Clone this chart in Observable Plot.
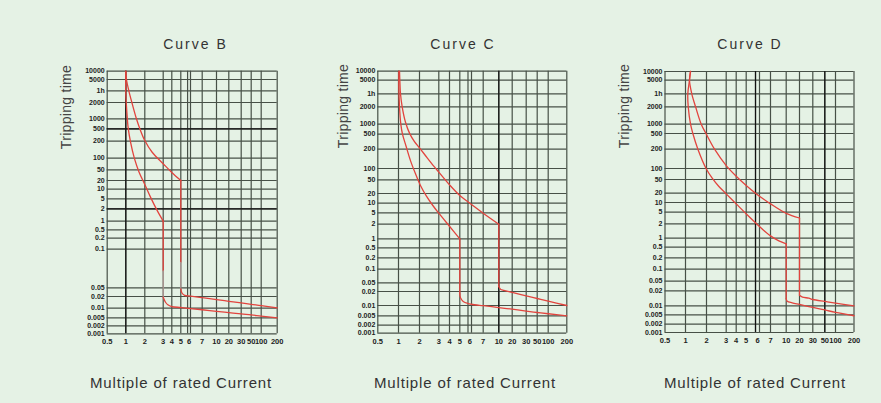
<!DOCTYPE html>
<html><head><meta charset="utf-8">
<script src="https://cdn.jsdelivr.net/npm/d3@7"></script>
<script src="https://cdn.jsdelivr.net/npm/@observablehq/plot@0.6"></script>
<style>
html,body{margin:0;padding:0;background:#ffffff;}
#wrap{position:relative;width:881px;height:403px;background:#e5f2e5;overflow:hidden;font-family:"Liberation Sans",Arial,sans-serif;}
#wrap svg{position:absolute;left:0;top:0;overflow:visible;}
.lbl{position:absolute;white-space:nowrap;transform:translate(-50%,-50%);line-height:1;}
.ttl{font-size:14px;letter-spacing:2px;color:#333;}
.yt{font-size:14px;letter-spacing:0.3px;color:#444;transform:translate(-50%,-50%) rotate(-90deg);}
.xt{font-size:15px;letter-spacing:0.85px;color:#333;}
</style></head><body><div id="wrap"></div>
<script>
// ---------- DATA ----------
const xTicks = [0.5, 1, 2, 3, 4, 5, 6, 7, 10, 20, 30, 50, 100, 200];
const xTickLabels = ["0.5", "1", "2", "3", "4", "5", "6", "7", "10", "20", "30", "50", "100", "200"];
const xLabelAt = [0.5, 1, 2, 3, 4, 5, 5.85, 7, 10, 20, 30, 50, 100, 200];
const xExtraGrid = [5.7];
const yTicks = [0.001, 0.002, 0.005, 0.01, 0.02, 0.05, 0.1, 0.2, 0.5, 1, 2, 5, 10, 20, 50, 100, 200, 500, 1000, 2000, 3600, 5000, 10000];
const yTickLabels = ["0.001", "0.002", "0.005", "0.01", "0.02", "0.05", "0.1", "0.2", "0.5", "1", "2", "5", "10", "20", "50", "100", "200", "500", "1000", "2000", "1h", "5000", "10000"];
const panelTitles = ["Curve B", "Curve C", "Curve D"];
const yTitle = "Tripping time";
const xTitle = "Multiple of rated Current";

// Curve B : thermal bend, then magnetic tail
const bUpperBend = [[1, 10000], [1.035, 5000], [1.16, 3600], [1.32, 2000], [1.56, 1000], [1.74, 500], [2, 216], [2.4, 135], [3, 76], [4, 42.5], [5, 20]];
const bUpperDropEnd = 0.083;
const bUpperFadeEnd = 0.0465;
const bUpperTail = [[5, 0.0465], [5.12, 0.032], [5.4, 0.024], [6, 0.0215], [7, 0.019], [10, 0.0174], [20, 0.0159], [30, 0.0145], [50, 0.0133], [100, 0.0122], [200, 0.0102]];
const bLowerBend = [[1, 10000], [1, 3190], [1.05, 1510], [1.12, 583], [1.25, 194], [1.46, 97], [1.7, 43.4], [2, 15.4], [2.31, 5.86], [2.64, 1.95], [3, 1]];
const bLowerDropEnd = 0.072;
const bLowerFadeEnd = 0.0194;
const bLowerTail = [[3, 0.0194], [3.27, 0.0151], [3.54, 0.0129], [4, 0.0114], [5, 0.0106], [6, 0.0098], [7, 0.0092], [10, 0.0084], [20, 0.0077], [30, 0.007], [50, 0.0065], [100, 0.0059], [200, 0.005]];
// Curve C
const cUpperBend = [[1.048, 10000], [1.063, 5000], [1.095, 3600], [1.175, 2000], [1.333, 1115], [1.54, 517], [1.76, 353], [2, 227], [2.4, 155], [2.74, 112], [3, 84], [4, 39], [5, 17.9], [6, 9.3], [7, 4.9], [10, 2]];
const cUpperTail = [[10, 0.037], [11.25, 0.028], [13.75, 0.0235], [20, 0.0193], [30, 0.0169], [50, 0.015], [100, 0.0131], [200, 0.01]];
const cLowerBend = [[1.016, 10000], [1.016, 4283], [1.048, 2000], [1.11, 1000], [1.19, 500], [1.35, 273], [1.57, 141], [1.81, 76.5], [2.05, 37.6], [2.36, 17.2], [2.69, 8.8], [3, 4.9], [4, 1.86], [5, 1]];
const cLowerTail = [[5, 0.0183], [5.06, 0.0155], [5.29, 0.0129], [5.7, 0.0114], [6, 0.0109], [7, 0.0099], [10, 0.009], [20, 0.0082], [30, 0.0073], [50, 0.0066], [100, 0.006], [200, 0.005]];
// Curve D
const dUpperBend = [[1.24, 10000], [1.19, 5000], [1.3, 3600], [1.48, 2000], [1.75, 1000], [2, 481], [2.41, 200], [3, 115], [4, 65], [5, 37], [5.7, 20], [6, 16.8], [7, 9.3], [10, 4.7], [20, 3.5]];
const dUpperTail = [[20, 0.017], [22.25, 0.0158], [27, 0.0151], [30, 0.0142], [50, 0.0129], [100, 0.0118], [200, 0.01]];
const dLowerBend = [[1.24, 10000], [1.19, 5000], [1.11, 3600], [1.13, 2000], [1.24, 1000], [1.35, 500], [1.59, 200], [1.98, 100], [2.29, 56], [2.63, 34.6], [3, 19.3], [4, 9.3], [5, 4.57], [6, 1.81], [7, 1.16], [8.6, 0.85], [10, 0.69]];
const dLowerTail = [[10, 0.0147], [10.75, 0.0131], [14.5, 0.012], [20, 0.0109], [30, 0.0091], [50, 0.0077], [100, 0.0063], [200, 0.0047]];

// ---------- LAYOUT (pixel positions of each panel's printed grid) ----------
const layouts = [
  {
    xRange: [106.7, 125.3, 144.3, 162.7, 171.3, 180.3, 190, 201.7, 216, 228.3, 240.7, 250.7, 260.7, 276.7],
    yRange: [333.3, 325.3, 317.3, 307.7, 296, 287.3, 248.7, 237.7, 229.3, 220.7, 208.3, 198.3, 188.7, 180, 169.3, 157.7, 140.7, 128.3, 118.3, 102, 90.3, 79, 70.7],
    titleX: 195.5, yTitleX: 66, yTitleY: 107, xTitleX: 181,
    darkX: [1], darkY: [500, 2],
    curves: [
      {bend: bUpperBend, dropEnd: bUpperDropEnd, fadeEnd: bUpperFadeEnd, tail: bUpperTail},
      {bend: bLowerBend, dropEnd: bLowerDropEnd, fadeEnd: bLowerFadeEnd, tail: bLowerTail}
    ]
  },
  {
    xRange: [377.3, 398, 419, 438.3, 449, 459.3, 471, 482.7, 498.3, 511.7, 525.7, 536.7, 547.7, 566.3],
    yRange: [332.7, 324.7, 315.3, 305, 291, 282.3, 268.7, 257.3, 247.3, 238.3, 223.7, 212.3, 202.7, 193, 179.3, 168, 148.7, 133.7, 123.7, 106.3, 93.3, 79.7, 70.7],
    titleX: 463, yTitleX: 342.5, yTitleY: 106, xTitleX: 465,
    darkX: [10], darkY: [],
    curves: [{bend: cUpperBend, tail: cUpperTail}, {bend: cLowerBend, tail: cLowerTail}]
  },
  {
    xRange: [664.5, 685, 706, 725.7, 735.7, 745.7, 759, 770, 785.7, 799, 812.3, 824.3, 835, 853.5],
    yRange: [332, 323.7, 314.3, 305.3, 290.3, 280.7, 268.7, 257.3, 246.7, 237.7, 223.3, 211.7, 202, 192.7, 179, 168, 148.7, 133, 123.7, 106.3, 93.3, 79.7, 71],
    titleX: 750, yTitleX: 624, yTitleY: 106, xTitleX: 755,
    darkX: [5.7, 50], darkY: [],
    curves: [{bend: dUpperBend, tail: dUpperTail}, {bend: dLowerBend, tail: dLowerTail}]
  }
];

const W = 881, H = 403;
const red = "#e2443e";
const fadeColor = "#b59c99";
const gridColor = "#475047";
const wrap = document.getElementById("wrap");

function addLabel(text, cls, x, y) {
  const d = document.createElement("div");
  d.className = "lbl " + cls;
  d.textContent = text;
  d.style.left = x + "px";
  d.style.top = y + "px";
  wrap.appendChild(d);
}

layouts.forEach((L, k) => {
  const yLab = yTicks.map((v, i) => ({v, t: yTickLabels[i]}));
  const xLab = xLabelAt.map((v, i) => ({v, t: xTickLabels[i]}));
  const lineMarks = [];
  L.curves.forEach(c => {
    const last = c.bend[c.bend.length - 1];
    lineMarks.push(Plot.line(c.bend, {x: d => d[0], y: d => d[1], stroke: red, strokeWidth: 1.3, curve: "catmull-rom"}));
    if (c.dropEnd !== undefined) {
      lineMarks.push(Plot.line([last, [last[0], c.dropEnd]], {x: d => d[0], y: d => d[1], stroke: red, strokeWidth: 1.3}));
      lineMarks.push(Plot.line([[last[0], c.dropEnd], [last[0], c.fadeEnd]], {x: d => d[0], y: d => d[1], stroke: fadeColor, strokeWidth: 1.2}));
    } else {
      lineMarks.push(Plot.line([last, c.tail[0]], {x: d => d[0], y: d => d[1], stroke: red, strokeWidth: 1.3}));
    }
    lineMarks.push(Plot.line(c.tail, {x: d => d[0], y: d => d[1], stroke: red, strokeWidth: 1.3, curve: "catmull-rom"}));
  });
  const svg = Plot.plot({
    width: W, height: H,
    margin: 0,
    style: {background: "transparent", fontFamily: "Liberation Sans, Arial, sans-serif", overflow: "visible"},
    x: {type: "linear", domain: xTicks, range: L.xRange, axis: null},
    y: {type: "linear", domain: yTicks, range: L.yRange, axis: null},
    marks: [
      Plot.ruleX(xTicks.concat(xExtraGrid), {x: d => d, y1: 0.001, y2: 10000, stroke: gridColor, strokeWidth: 1.2}),
      Plot.ruleY(yTicks, {y: d => d, x1: 0.5, x2: 200, stroke: gridColor, strokeWidth: 1.2}),
      Plot.ruleX(L.darkX, {x: d => d, y1: 0.001, y2: 10000, stroke: "#111", strokeWidth: 1.2}),
      Plot.ruleY(L.darkY, {y: d => d, x1: 0.5, x2: 200, stroke: "#111", strokeWidth: 1.2}),
      ...lineMarks,
      Plot.text(yLab, {x: 0.5, y: "v", text: "t", textAnchor: "end", dx: -2.5, fontSize: 7, fill: "#222", fontWeight: 600}),
      Plot.text(xLab, {x: "v", y: 0.001, text: "t", dy: 8, fontSize: 7.5, fill: "#222", fontWeight: 600})
    ]
  });
  wrap.appendChild(svg);
  addLabel(panelTitles[k], "ttl", L.titleX, 44);
  addLabel(yTitle, "yt", L.yTitleX, L.yTitleY);
  addLabel(xTitle, "xt", L.xTitleX, 382);
});
</script>
</body></html>
